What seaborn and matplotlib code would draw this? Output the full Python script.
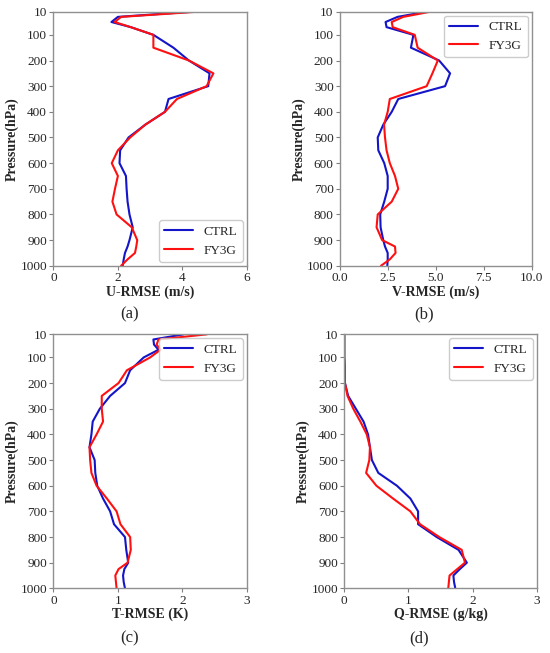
import numpy as np
import pandas as pd
import seaborn as sns
import matplotlib.pyplot as plt

levels = [10, 30, 50, 70, 100, 150, 200, 250, 300, 350, 400, 450, 500, 550,
          600, 650, 700, 750, 800, 850, 900, 925, 950, 975, 1000]

u_ctrl = [4.3, 2.0, 1.8, 2.4, 3.1, 3.72, 4.2, 4.84, 4.8, 3.57, 3.46, 2.85, 2.33, 2.07,
          2.05, 2.25, 2.27, 2.3, 2.36, 2.46, 2.36, 2.3, 2.22, 2.18, 2.15]
u_fy3g = [4.45, 2.1, 1.9, 2.4, 3.1, 3.1, 4.2, 4.96, 4.75, 3.83, 3.46, 2.85, 2.38, 2.0,
          1.81, 2.0, 1.91, 1.83, 1.96, 2.43, 2.6, 2.57, 2.53, 2.3, 2.1]

v_ctrl = [4.5, 3.0, 2.38, 2.43, 3.83, 3.7, 5.17, 5.74, 5.48, 3.04, 2.7, 2.26, 1.97, 2.0,
          2.31, 2.49, 2.49, 2.31, 2.1, 2.12, 2.26, 2.35, 2.49, 2.49, 2.47]
v_fy3g = [4.7, 3.3, 2.7, 2.75, 3.9, 4.05, 5.1, 4.82, 4.52, 2.6, 2.49, 2.3, 2.35, 2.43,
          2.6, 2.87, 3.04, 2.7, 1.97, 1.91, 2.2, 2.87, 2.9, 2.6, 2.14]

t_ctrl = [2.02, 1.55, 1.56, 1.63, 1.4, 1.19, 1.11, 0.88, 0.72, 0.61, 0.59, 0.56, 0.64, 0.65,
          0.68, 0.77, 0.88, 0.94, 1.11, 1.13, 1.16, 1.1, 1.08, 1.09, 1.11]
t_fy3g = [2.38, 1.63, 1.6, 1.66, 1.5, 1.14, 1.01, 0.75, 0.75, 0.77, 0.67, 0.56, 0.57, 0.59,
          0.67, 0.83, 0.98, 1.04, 1.19, 1.2, 1.15, 1.01, 0.96, 0.97, 0.98]

q_ctrl = [0.0, 0.0, 0.0, 0.0, 0.0, 0.01, 0.01, 0.06, 0.18, 0.3, 0.37, 0.4, 0.43, 0.53,
          0.82, 1.03, 1.15, 1.15, 1.44, 1.78, 1.91, 1.8, 1.7, 1.71, 1.73]
q_fy3g = [0.0, 0.0, 0.0, 0.0, 0.0, 0.01, 0.01, 0.05, 0.14, 0.25, 0.35, 0.4, 0.39, 0.34,
          0.5, 0.76, 1.03, 1.18, 1.48, 1.83, 1.88, 1.76, 1.64, 1.63, 1.62]

panels = [
    ('U-RMSE (m/s)', u_ctrl, u_fy3g, [0, 2, 4, 6], ['0', '2', '4', '6'], 'lower right', '(a)'),
    ('V-RMSE (m/s)', v_ctrl, v_fy3g, [0, 2.5, 5, 7.5, 10], ['0.0', '2.5', '5.0', '7.5', '10.0'], 'upper right', '(b)'),
    ('T-RMSE (K)', t_ctrl, t_fy3g, [0, 1, 2, 3], ['0', '1', '2', '3'], 'upper right', '(c)'),
    ('Q-RMSE (g/kg)', q_ctrl, q_fy3g, [0, 1, 2, 3], ['0', '1', '2', '3'], 'upper right', '(d)'),
]

# axes boxes in figure fractions (left, bottom, width, height)
boxes = [
    [0.097, 0.593, 0.352, 0.389],
    [0.618, 0.593, 0.349, 0.389],
    [0.097, 0.099, 0.352, 0.389],
    [0.626, 0.099, 0.350, 0.389],
]
label_pos = [(0.235, 0.519), (0.771, 0.519), (0.235, 0.023), (0.762, 0.023)]

sns.set_style('ticks')
plt.rcParams['font.family'] = ['Liberation Serif', 'DejaVu Serif']

fig = plt.figure(figsize=(5.5, 6.53), dpi=100)
pal = {'CTRL': '#1414c8', 'FY3G': '#ff1010'}
yticks = [10, 100, 200, 300, 400, 500, 600, 700, 800, 900, 1000]

for (xlabel, ctrl, fy3g, xt, xtl, loc, tag), box, lp in zip(panels, boxes, label_pos):
    ax = fig.add_axes(box)
    df = pd.DataFrame({
        'level': levels + levels,
        'rmse': ctrl + fy3g,
        'exp': ['CTRL'] * len(levels) + ['FY3G'] * len(levels),
    })
    sns.lineplot(data=df, x='rmse', y='level', hue='exp', palette=pal,
                 orient='y', estimator=None, linewidth=1.5, ax=ax)
    ax.set_ylim(1000, 10)
    ax.set_yticks(yticks)
    ax.set_xlim(xt[0], xt[-1])
    ax.set_xticks(xt)
    ax.set_xticklabels(xtl)
    ax.tick_params(labelsize=9.5, length=3, color='#808080', pad=1.5)
    for s in ax.spines.values():
        s.set_color('#909090')
        s.set_linewidth(1.0)
    ax.set_xlabel(xlabel, fontsize=10, fontweight='bold', labelpad=1)
    ax.set_ylabel('Pressure(hPa)', fontsize=10, fontweight='bold', labelpad=1)
    leg = ax.legend(loc=loc, fontsize=9.5, frameon=True, handlelength=2.2,
                    borderaxespad=0.3)
    leg.get_frame().set_edgecolor('#c0c0c0')
    fig.text(lp[0], lp[1], tag, fontsize=12, ha='center', va='center')

fig.savefig('out.png', dpi=100)
